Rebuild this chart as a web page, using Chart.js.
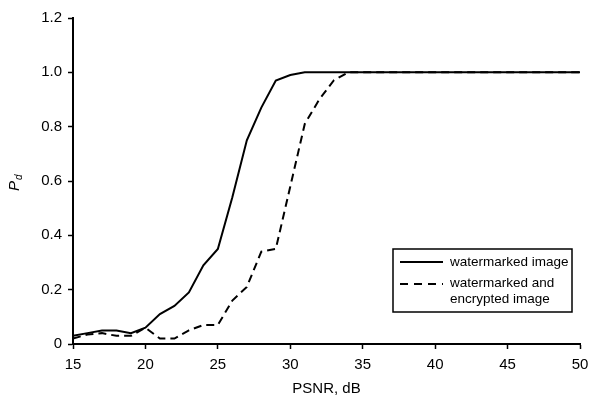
<!DOCTYPE html>
<html>
<head>
<meta charset="utf-8">
<script src="https://cdn.jsdelivr.net/npm/chart.js@4.4.1/dist/chart.umd.min.js"></script>
<style>
html,body{margin:0;padding:0;background:#fff;}
#wrap{width:591px;height:399px;}
</style>
</head>
<body>
<div id="wrap"><canvas id="c" width="591" height="399"></canvas></div>
<script>
const psnr = [15,16,17,18,19,20,21,22,23,24,25,26,27,28,29,30,31,32,33,34,35,40,45,50];
const watermarked = [0.03,0.04,0.05,0.05,0.04,0.06,0.11,0.14,0.19,0.29,0.35,0.54,0.75,0.87,0.97,0.99,1.0,1.0,1.0,1.0,1.0,1.0,1.0,1.0];
const watermarkedEncrypted = [0.02,0.035,0.04,0.03,0.03,0.06,0.02,0.02,0.05,0.07,0.07,0.16,0.21,0.34,0.35,0.58,0.81,0.9,0.97,1.0,1.0,1.0,1.0,1.0];
const seriesNames = ['watermarked image', ['watermarked and', 'encrypted image']];
const yTickLabels = ['0','0.2','0.4','0.6','0.8','1.0','1.2'];
const xTitle = 'PSNR, dB';
const yTitleMain = 'P';
const yTitleSub = 'd';

Chart.defaults.font.family = '"Liberation Sans", Arial, sans-serif';
Chart.defaults.color = '#000';

const toPts = (xs, ys) => xs.map((x, i) => ({x: x, y: ys[i]}));

const legendPlugin = {
  id: 'boxLegend',
  afterDraw(chart) {
    const ctx = chart.ctx, a = chart.chartArea;
    const bx = a.right - 187, by = a.bottom - 95, bw = 179, bh = 63;
    ctx.save();
    ctx.strokeStyle = '#000';
    ctx.lineWidth = 1.5;
    ctx.strokeRect(bx, by, bw, bh);
    ctx.font = '13.5px "Liberation Sans", Arial, sans-serif';
    ctx.fillStyle = '#000';
    ctx.textBaseline = 'middle';
    ctx.textAlign = 'left';
    ctx.lineWidth = 2;
    ctx.setLineDash([]);
    ctx.beginPath(); ctx.moveTo(bx + 7, by + 13); ctx.lineTo(bx + 50, by + 13); ctx.stroke();
    ctx.fillText(seriesNames[0], bx + 57, by + 13);
    ctx.setLineDash([8, 6]);
    ctx.beginPath(); ctx.moveTo(bx + 7, by + 35); ctx.lineTo(bx + 50, by + 35); ctx.stroke();
    ctx.setLineDash([]);
    ctx.fillText(seriesNames[1][0], bx + 57, by + 34);
    ctx.fillText(seriesNames[1][1], bx + 57, by + 50);
    ctx.restore();
  }
};

const yTitlePlugin = {
  id: 'yTitle',
  afterDraw(chart) {
    const ctx = chart.ctx, a = chart.chartArea;
    const cy = (a.top + a.bottom) / 2;
    ctx.save();
    ctx.fillStyle = '#000';
    ctx.translate(19, cy + 10);
    ctx.rotate(-Math.PI / 2);
    ctx.textBaseline = 'alphabetic';
    ctx.textAlign = 'left';
    ctx.font = 'italic 15px "Liberation Sans", Arial, sans-serif';
    ctx.fillText(yTitleMain, 0, 0);
    const w = ctx.measureText(yTitleMain).width;
    ctx.font = 'italic 10px "Liberation Sans", Arial, sans-serif';
    ctx.fillText(yTitleSub, w + 1, 3);
    ctx.restore();
  }
};

new Chart(document.getElementById('c'), {
  type: 'line',
  data: {
    datasets: [
      {
        label: 'watermarked image',
        data: toPts(psnr, watermarked),
        borderColor: '#000',
        borderWidth: 2,
        pointRadius: 0,
        tension: 0,
        fill: false
      },
      {
        label: 'watermarked and encrypted image',
        data: toPts(psnr, watermarkedEncrypted),
        borderColor: '#000',
        borderWidth: 2,
        borderDash: [8, 5],
        pointRadius: 0,
        tension: 0,
        fill: false
      }
    ]
  },
  options: {
    responsive: false,
    animation: false,
    layout: { padding: { left: 0, right: 11, top: 18, bottom: 0 } },
    plugins: { legend: { display: false }, tooltip: { enabled: false } },
    scales: {
      x: {
        type: 'linear',
        min: 15, max: 50,
        ticks: { stepSize: 5, font: { size: 15 }, color: '#000', padding: 7, maxRotation: 0 },
        grid: { drawOnChartArea: false, drawTicks: true, tickLength: 5, tickColor: '#000', tickWidth: 1.5 },
        border: { color: '#000', width: 2 },
        title: { display: true, text: xTitle, font: { size: 15 }, color: '#000', padding: { top: 2, bottom: 1 } },
        afterFit(s) { s.height = 55; s.paddingRight = 0; s.paddingLeft = 0; }
      },
      y: {
        min: 0, max: 1.2,
        ticks: {
          stepSize: 0.2, font: { size: 15 }, color: '#000', padding: 6,
          callback: (v, i) => yTickLabels[i]
        },
        grid: { drawOnChartArea: false, drawTicks: true, tickLength: 5, tickColor: '#000', tickWidth: 1.5 },
        border: { color: '#000', width: 2 },
        afterFit(s) { s.width = 73; }
      }
    }
  },
  plugins: [legendPlugin, yTitlePlugin]
});
</script>
</body>
</html>
